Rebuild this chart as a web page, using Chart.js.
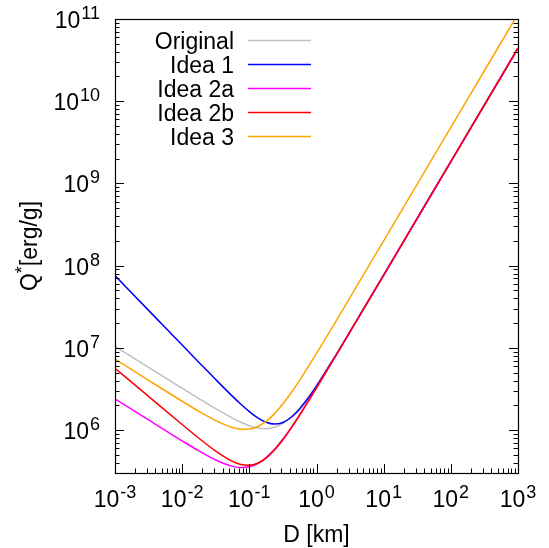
<!DOCTYPE html>
<html>
<head>
<meta charset="utf-8">
<script src="https://cdn.jsdelivr.net/npm/chart.js@4/dist/chart.umd.min.js"></script>
<style>
  html, body { margin: 0; padding: 0; background: #fff; }
  #wrap { width: 549px; height: 548px; }
</style>
</head>
<body>
<div id="wrap"><canvas id="c" width="549" height="548"></canvas></div>
<script>
// Diameter D [km]
const diameters = [0.001, 0.003162, 0.01, 0.01778, 0.03162, 0.05623, 0.07499, 0.1, 0.1334, 0.1778,
  0.2371, 0.3162, 0.4217, 0.5623, 0.7499, 1, 1.778, 3.162, 10, 100, 1000];

// Catastrophic disruption threshold Q* [erg/g] for each scenario
const qOriginal = [1.042e7, 5.79e6, 3.23e6, 2.415e6, 1.818e6, 1.396e6, 1.243e6, 1.128e6, 1.058e6, 1.039e6,
  1.080e6, 1.208e6, 1.450e6, 1.858e6, 2.506e6, 3.504e6, 7.31e6, 1.584e7, 7.68e7, 1.841e9, 4.416e10];
const qIdea1 = [7.551e7, 2.854e7, 1.080e7, 6.645e6, 4.106e6, 2.568e6, 2.056e6, 1.675e6, 1.407e6, 1.243e6,
  1.182e6, 1.236e6, 1.429e6, 1.804e6, 2.431e6, 3.420e6, 7.214e6, 1.575e7, 7.68e7, 1.841e9, 4.416e10];
const qIdea2a = [2.399e6, 1.327e6, 7.385e5, 5.572e5, 4.324e5, 3.614e5, 3.493e5, 3.572e5, 3.913e5, 4.617e5,
  5.826e5, 7.769e5, 1.078e6, 1.538e6, 2.229e6, 3.268e6, 7.130e6, 1.570e7, 7.68e7, 1.841e9, 4.416e10];
const qIdea2b = [5.649e6, 2.563e6, 1.167e6, 7.945e5, 5.539e5, 4.150e5, 3.806e5, 3.721e5, 3.943e5, 4.560e5,
  5.711e5, 7.615e5, 1.060e6, 1.519e6, 2.210e6, 3.248e6, 7.112e6, 1.569e7, 7.674e7, 1.841e9, 4.416e10];
const qIdea3 = [7.278e6, 4.025e6, 2.238e6, 1.685e6, 1.300e6, 1.071e6, 1.022e6, 1.027e6, 1.104e6, 1.276e6,
  1.582e6, 2.082e6, 2.861e6, 4.055e6, 5.858e6, 8.564e6, 1.865e7, 4.104e7, 2.005e8, 4.808e9, 1.153e11];

const seriesNames = ['Original', 'Idea 1', 'Idea 2a', 'Idea 2b', 'Idea 3'];
const seriesValues = [qOriginal, qIdea1, qIdea2a, qIdea2b, qIdea3];
const seriesColors = ['#c0c0c0', '#0000ff', '#ff00ff', '#ff0000', '#ffa500'];

// Decade exponents labelled on each axis
const xTickExponents = [-3, -2, -1, 0, 1, 2, 3];
const yTickExponents = [6, 7, 8, 9, 10, 11];

const X_MIN = 1e-3, X_MAX = 1e3, Y_MIN = 3e5, Y_MAX = 1e11;
const FONT = '"Liberation Sans", Arial, Helvetica, sans-serif';
const MAIN_PX = 23, SUP_PX = 18;

const datasets = seriesNames.map((name, i) => ({
  label: name,
  data: diameters.map((d, k) => ({ x: d, y: seriesValues[i][k] })),
  borderColor: seriesColors[i],
  backgroundColor: seriesColors[i],
  borderWidth: 1.5,
  pointRadius: 0,
  cubicInterpolationMode: 'monotone',
  fill: false,
  order: seriesNames.length - i   // later series drawn on top
}));

// Draw "10" followed by a raised exponent; anchor: 'center' or 'right'
function powerLabel(ctx, exp, x, baseline, anchor) {
  const sup = String(exp);
  ctx.font = MAIN_PX + 'px ' + FONT;
  const wMain = ctx.measureText('10').width;
  ctx.font = SUP_PX + 'px ' + FONT;
  const wSup = ctx.measureText(sup).width;
  const total = wMain + wSup + 1;
  const start = anchor === 'center' ? x - total / 2 : x - total;
  ctx.textAlign = 'left';
  ctx.textBaseline = 'alphabetic';
  ctx.font = MAIN_PX + 'px ' + FONT;
  ctx.fillText('10', start, baseline);
  ctx.font = SUP_PX + 'px ' + FONT;
  ctx.fillText(sup, start + wMain + 1, baseline - 9);
}

const framePlugin = {
  id: 'frame',
  afterDatasetsDraw(chart) {
    const { ctx, chartArea: a, scales } = chart;
    const xs = scales.x, ys = scales.y;
    ctx.save();
    ctx.strokeStyle = '#000';
    ctx.lineWidth = 1;
    ctx.beginPath();
    // x ticks (bottom, inward)
    for (let e = -3; e <= 3; e++) {
      for (let m = 1; m <= 9; m++) {
        const v = m * Math.pow(10, e);
        if (v < X_MIN * 0.999 || v > X_MAX * 1.001) continue;
        const px = Math.round(xs.getPixelForValue(v)) + 0.5;
        const len = m === 1 ? 9 : 4.5;
        ctx.moveTo(px, a.bottom);
        ctx.lineTo(px, a.bottom - len);
      }
    }
    // y ticks (left and right, inward)
    for (let e = 5; e <= 11; e++) {
      for (let m = 1; m <= 9; m++) {
        const v = m * Math.pow(10, e);
        if (v < Y_MIN * 0.999 || v > Y_MAX * 1.001) continue;
        const py = Math.round(ys.getPixelForValue(v)) + 0.5;
        const len = m === 1 ? 9 : 4.5;
        ctx.moveTo(a.left, py);
        ctx.lineTo(a.left + len, py);
        ctx.moveTo(a.right, py);
        ctx.lineTo(a.right - len, py);
      }
    }
    ctx.stroke();
    ctx.lineWidth = 1.2;
    ctx.strokeRect(Math.round(a.left) + 0.5, Math.round(a.top) + 0.5,
      Math.round(a.right - a.left), Math.round(a.bottom - a.top));

    // tick labels
    ctx.fillStyle = '#000';
    xTickExponents.forEach(e => {
      powerLabel(ctx, e, xs.getPixelForValue(Math.pow(10, e)), a.bottom + 34, 'center');
    });
    yTickExponents.forEach(e => {
      powerLabel(ctx, e, a.left - 15, ys.getPixelForValue(Math.pow(10, e)) + 9, 'right');
    });

    // axis titles
    ctx.font = MAIN_PX + 'px ' + FONT;
    ctx.textAlign = 'center';
    ctx.textBaseline = 'alphabetic';
    ctx.fillText('D [km]', (a.left + a.right) / 2, 541.5);

    ctx.save();
    ctx.translate(37, 246);
    ctx.rotate(-Math.PI / 2);
    ctx.font = MAIN_PX + 'px ' + FONT;
    const wQ = ctx.measureText('Q').width;
    const wRest = ctx.measureText('[erg/g]').width;
    ctx.font = SUP_PX + 'px ' + FONT;
    const wStar = ctx.measureText('*').width;
    const tot = wQ + wStar + wRest;
    let u = -tot / 2;
    ctx.textAlign = 'left';
    ctx.font = MAIN_PX + 'px ' + FONT;
    ctx.fillText('Q', u, 0);
    u += wQ;
    ctx.font = SUP_PX + 'px ' + FONT;
    ctx.fillText('*', u, -9);
    u += wStar;
    ctx.font = MAIN_PX + 'px ' + FONT;
    ctx.fillText('[erg/g]', u, 0);
    ctx.restore();

    // key
    chart.data.datasets.forEach((ds, i) => {
      const rowY = 40.5 + i * 24;
      ctx.font = MAIN_PX + 'px ' + FONT;
      ctx.textAlign = 'right';
      ctx.fillStyle = '#000';
      ctx.fillText(ds.label, 234, rowY + 8.5);
      ctx.strokeStyle = ds.borderColor;
      ctx.lineWidth = 1.5;
      ctx.beginPath();
      ctx.moveTo(248, rowY);
      ctx.lineTo(311, rowY);
      ctx.stroke();
    });
    ctx.restore();
  }
};

new Chart(document.getElementById('c'), {
  type: 'line',
  data: { datasets },
  options: {
    responsive: false,
    devicePixelRatio: 1,
    animation: false,
    events: [],
    layout: { padding: { left: 0, top: 19, right: 31, bottom: 0 } },
    plugins: { legend: { display: false }, tooltip: { enabled: false } },
    scales: {
      x: {
        type: 'logarithmic', min: X_MIN, max: X_MAX,
        grid: { display: false }, border: { display: false },
        ticks: { display: false },
        afterFit(s) { s.height = 75; }
      },
      y: {
        type: 'logarithmic', min: Y_MIN, max: Y_MAX,
        grid: { display: false }, border: { display: false },
        ticks: { display: false },
        afterFit(s) { s.width = 115; }
      }
    }
  },
  plugins: [framePlugin]
});
</script>
</body>
</html>
